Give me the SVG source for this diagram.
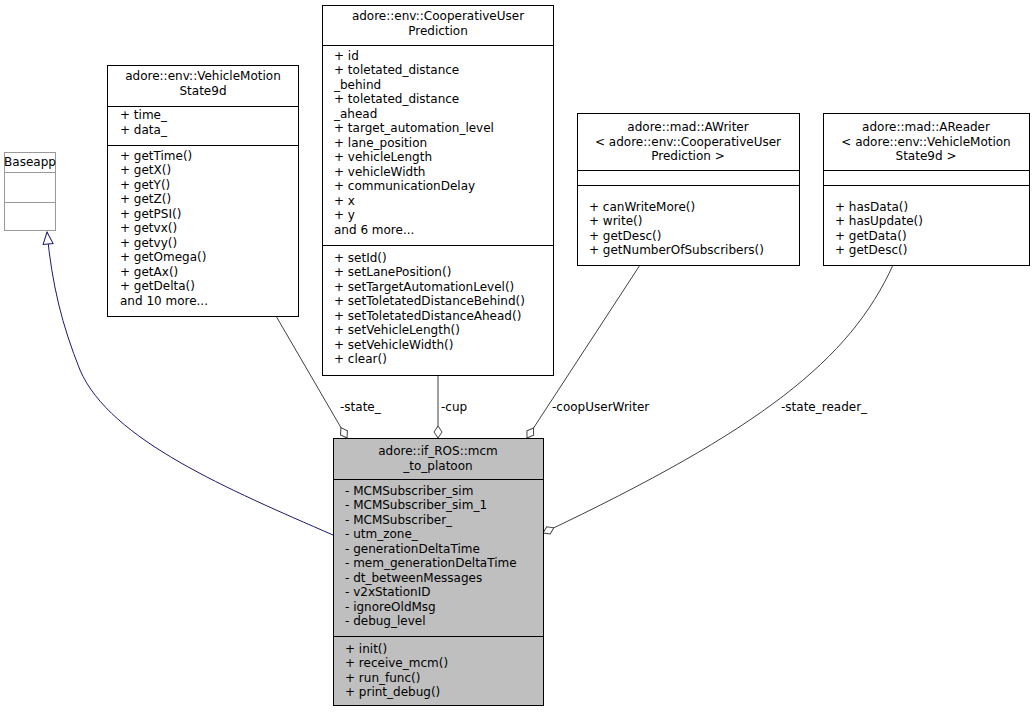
<svg xmlns="http://www.w3.org/2000/svg" width="1035" height="712" viewBox="0 0 1035 712">
<style>
text{font-family:"DejaVu Sans",sans-serif;font-size:12px;fill:#000}
.c{text-anchor:middle}
.b{fill:#fff;stroke:#000;stroke-width:1}
.g{fill:#fff;stroke:#999;stroke-width:1}
.l{stroke:#000;stroke-width:1}
.lg{stroke:#999;stroke-width:1}
.e{fill:none;stroke:#404040;stroke-width:1}
</style>
<defs>
<marker id="dia" markerWidth="14" markerHeight="10" refX="13" refY="5" orient="auto" markerUnits="userSpaceOnUse">
<path d="M1,5 L7,1 L13,5 L7,9 Z" fill="#fff" stroke="#404040"/>
</marker>
<marker id="tri" markerWidth="14" markerHeight="12" refX="13" refY="6" orient="auto" markerUnits="userSpaceOnUse">
<path d="M1,1 L13,6 L1,11 Z" fill="#fff" stroke="#191970"/>
</marker>
</defs>
<g id="connectors">
<path d="M333,535 C230,490 110,440 80,370 C62,325 52,285 47,232" fill="none" stroke="#191970" marker-end="url(#tri)"/>
<path class="e" d="M276,316 L347,438" marker-end="url(#dia)"/>
<text x="340" y="411">-state_</text>
<path class="e" d="M438,375 L438,438" marker-end="url(#dia)"/>
<text x="441" y="411">-cup</text>
<path class="e" d="M640,265 L527,438" marker-end="url(#dia)"/>
<text x="552" y="411">-coopUserWriter</text>
<path class="e" d="M893,265 C850,360 760,430 543,533" marker-end="url(#dia)"/>
<text x="781" y="411">-state_reader_</text>
</g>
<g id="baseapp">
<rect class="g" x="4.5" y="152.5" width="51" height="78"/>
<line class="lg" x1="4.5" y1="172.5" x2="55.5" y2="172.5"/>
<line class="lg" x1="4.5" y1="202.5" x2="55.5" y2="202.5"/>
<text x="30" y="166" class="c">Baseapp</text>
</g>
<g id="vms">
<rect class="b" x="107.5" y="65.5" width="191" height="251"/>
<line class="l" x1="107.5" y1="106.5" x2="298.5" y2="106.5"/>
<line class="l" x1="107.5" y1="145.5" x2="298.5" y2="145.5"/>
<text x="203" y="80" class="c">adore::env::VehicleMotion</text>
<text x="203" y="95" class="c">State9d</text>
<text x="120" y="119">+ time_</text><text x="120" y="134">+ data_</text>
<text x="120" y="160">+ getTime()</text><text x="120" y="174">+ getX()</text><text x="120" y="189">+ getY()</text><text x="120" y="203">+ getZ()</text><text x="120" y="218">+ getPSI()</text><text x="120" y="232">+ getvx()</text><text x="120" y="247">+ getvy()</text><text x="120" y="261">+ getOmega()</text><text x="120" y="276">+ getAx()</text><text x="120" y="290">+ getDelta()</text><text x="120" y="305">and 10 more...</text>
</g>
<g id="cup">
<rect class="b" x="322.5" y="5.5" width="231" height="370"/>
<line class="l" x1="322.5" y1="45.5" x2="553.5" y2="45.5"/>
<line class="l" x1="322.5" y1="245.5" x2="553.5" y2="245.5"/>
<text x="438" y="20" class="c">adore::env::CooperativeUser</text>
<text x="438" y="35" class="c">Prediction</text>
<text x="334" y="60">+ id</text><text x="334" y="74">+ toletated_distance</text><text x="334" y="89">_behind</text><text x="334" y="103">+ toletated_distance</text><text x="334" y="118">_ahead</text><text x="334" y="132">+ target_automation_level</text><text x="334" y="147">+ lane_position</text><text x="334" y="161">+ vehicleLength</text><text x="334" y="176">+ vehicleWidth</text><text x="334" y="190">+ communicationDelay</text><text x="334" y="205">+ x</text><text x="334" y="219">+ y</text><text x="334" y="234">and 6 more...</text>
<text x="334" y="262">+ setId()</text><text x="334" y="276">+ setLanePosition()</text><text x="334" y="291">+ setTargetAutomationLevel()</text><text x="334" y="305">+ setToletatedDistanceBehind()</text><text x="334" y="320">+ setToletatedDistanceAhead()</text><text x="334" y="334">+ setVehicleLength()</text><text x="334" y="349">+ setVehicleWidth()</text><text x="334" y="363">+ clear()</text>
</g>
<g id="awriter">
<rect class="b" x="577.5" y="113.5" width="222" height="152"/>
<line class="l" x1="577.5" y1="170.5" x2="799.5" y2="170.5"/>
<line class="l" x1="577.5" y1="185.5" x2="799.5" y2="185.5"/>
<text x="688" y="131" class="c">adore::mad::AWriter</text>
<text x="688" y="146" class="c">&lt; adore::env::CooperativeUser</text>
<text x="688" y="160" class="c">Prediction &gt;</text>
<text x="589" y="211">+ canWriteMore()</text><text x="589" y="225">+ write()</text><text x="589" y="240">+ getDesc()</text><text x="589" y="254">+ getNumberOfSubscribers()</text>
</g>
<g id="areader">
<rect class="b" x="823.5" y="113.5" width="206" height="152"/>
<line class="l" x1="823.5" y1="170.5" x2="1029.5" y2="170.5"/>
<line class="l" x1="823.5" y1="185.5" x2="1029.5" y2="185.5"/>
<text x="926" y="131" class="c">adore::mad::AReader</text>
<text x="926" y="146" class="c">&lt; adore::env::VehicleMotion</text>
<text x="926" y="160" class="c">State9d &gt;</text>
<text x="835" y="211">+ hasData()</text><text x="835" y="225">+ hasUpdate()</text><text x="835" y="240">+ getData()</text><text x="835" y="254">+ getDesc()</text>
</g>
<g id="main">
<rect x="333.5" y="438.5" width="210" height="267" fill="#bfbfbf" stroke="#000"/>
<line class="l" x1="333.5" y1="479.5" x2="543.5" y2="479.5"/>
<line class="l" x1="333.5" y1="636.5" x2="543.5" y2="636.5"/>
<text x="438" y="455" class="c">adore::if_ROS::mcm</text>
<text x="438" y="470" class="c">_to_platoon</text>
<text x="345" y="495">- MCMSubscriber_sim</text><text x="345" y="509">- MCMSubscriber_sim_1</text><text x="345" y="524">- MCMSubscriber_</text><text x="345" y="538">- utm_zone_</text><text x="345" y="553">- generationDeltaTime</text><text x="345" y="567">- mem_generationDeltaTime</text><text x="345" y="582">- dt_betweenMessages</text><text x="345" y="596">- v2xStationID</text><text x="345" y="611">- ignoreOldMsg</text><text x="345" y="625">- debug_level</text>
<text x="345" y="653">+ init()</text><text x="345" y="667">+ receive_mcm()</text><text x="345" y="682">+ run_func()</text><text x="345" y="696">+ print_debug()</text>
</g>
</svg>
